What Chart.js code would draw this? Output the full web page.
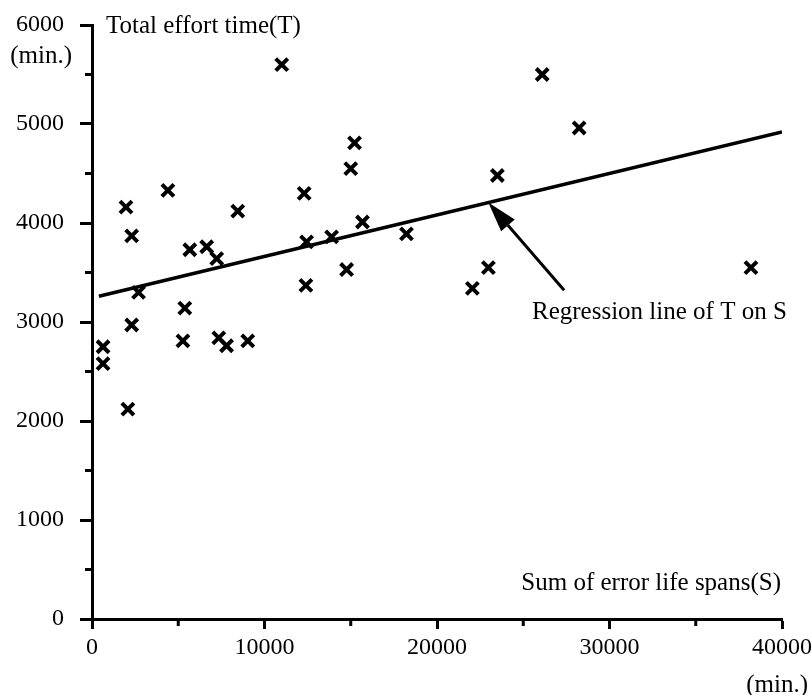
<!DOCTYPE html>
<html>
<head>
<meta charset="utf-8">
<title>Total effort time vs sum of error life spans</title>
<script src="https://cdn.jsdelivr.net/npm/chart.js@4.4.1/dist/chart.umd.min.js"></script>
<style>
  html, body { margin: 0; padding: 0; background: #fff; }
  #wrap { width: 812px; height: 695px; }
</style>
</head>
<body>
<div id="wrap"><canvas id="chart" width="812" height="695"></canvas></div>
<script>
// Sum of error life spans S (min.) and total effort time T (min.) per subject
const errorSpan = [640, 640, 2080, 2300, 2700, 2300, 1970, 4400, 8450, 11000, 12300,
  5670, 6650, 7230, 12400, 5380, 5270, 7350, 7800, 9030, 12440, 13890, 15680,
  15000, 15220, 14760, 18230, 23500, 22980, 22050, 26100, 28240, 38200];
const effortTime = [2750, 2580, 2120, 2970, 3300, 3870, 4160, 4330, 4120, 5600, 4300,
  3730, 3760, 3640, 3370, 3140, 2810, 2840, 2760, 2810, 3810, 3860, 4010,
  4550, 4810, 3530, 3890, 4480, 3550, 3340, 5500, 4960, 3550];

// Regression line of T on S (end points)
const regS = [400, 40000];
const regT = [3260, 4920];

// Arrow pointing at the regression line: tail and head in data units
const arrowS = [27370, 22975];
const arrowT = [3320, 4206];

const xTicks = [0, 10000, 20000, 30000, 40000];
const yTicks = [0, 1000, 2000, 3000, 4000, 5000, 6000];

const serif = "'Liberation Serif', 'DejaVu Serif', serif";

const points = errorSpan.map((s, i) => ({ x: s, y: effortTime[i] }));
const regression = regS.map((s, i) => ({ x: s, y: regT[i] }));

// minor ticks half way between the labelled ones, plus text and arrow
const extras = {
  id: 'extras',
  afterDraw(chart) {
    const { ctx, chartArea } = chart;
    const xs = chart.scales.x, ys = chart.scales.y;
    ctx.save();
    ctx.strokeStyle = '#000';
    ctx.lineWidth = 3;
    ctx.lineCap = 'butt';
    for (let v = 5000; v < 40000; v += 10000) {
      const px = xs.getPixelForValue(v);
      ctx.beginPath();
      ctx.moveTo(px, chartArea.bottom);
      ctx.lineTo(px, chartArea.bottom + 7);
      ctx.stroke();
    }
    for (let v = 500; v < 6000; v += 1000) {
      const py = ys.getPixelForValue(v);
      ctx.beginPath();
      ctx.moveTo(chartArea.left, py);
      ctx.lineTo(chartArea.left - 7, py);
      ctx.stroke();
    }

    // arrow
    const x0 = xs.getPixelForValue(arrowS[0]), y0 = ys.getPixelForValue(arrowT[0]);
    const x1 = xs.getPixelForValue(arrowS[1]), y1 = ys.getPixelForValue(arrowT[1]);
    const ang = Math.atan2(y1 - y0, x1 - x0);
    const headLen = 30, headW = 9;
    const bx = x1 - headLen * Math.cos(ang), by = y1 - headLen * Math.sin(ang);
    ctx.beginPath();
    ctx.moveTo(x0, y0);
    ctx.lineTo(bx, by);
    ctx.stroke();
    ctx.beginPath();
    ctx.moveTo(x1, y1);
    ctx.lineTo(bx + headW * Math.sin(ang), by - headW * Math.cos(ang));
    ctx.lineTo(bx - headW * Math.sin(ang), by + headW * Math.cos(ang));
    ctx.closePath();
    ctx.fillStyle = '#000';
    ctx.fill();

    // texts
    ctx.fillStyle = '#000';
    ctx.font = '25px ' + serif;
    ctx.textBaseline = 'alphabetic';
    ctx.textAlign = 'left';
    ctx.fillText('Total effort time(T)', chartArea.left + 14, 33);
    ctx.fillText('Regression line of T on S', 532, 319);
    ctx.textAlign = 'right';
    ctx.fillText('Sum of error life spans(S)', 781, 590);
    ctx.fillText('(min.)', 72, 63);
    ctx.fillText('(min.)', 808, 692);
    ctx.restore();
  }
};

new Chart(document.getElementById('chart'), {
  type: 'scatter',
  data: {
    datasets: [
      {
        data: points,
        pointStyle: 'crossRot',
        pointRadius: 8.5,
        pointBorderWidth: 4,
        borderColor: '#000',
        backgroundColor: '#000'
      },
      {
        type: 'line',
        data: regression,
        borderColor: '#000',
        borderWidth: 3.5,
        pointRadius: 0,
        fill: false
      }
    ]
  },
  options: {
    responsive: false,
    animation: false,
    devicePixelRatio: 1,
    layout: { padding: { left: 0, right: 29, top: 25, bottom: 0 } },
    plugins: { legend: { display: false }, tooltip: { enabled: false } },
    scales: {
      x: {
        type: 'linear',
        min: 0,
        max: 40000,
        afterBuildTicks: s => { s.ticks = xTicks.map(v => ({ value: v })); },
        afterFit: s => { s.height = 76; },
        border: { color: '#000', width: 3 },
        grid: { drawOnChartArea: false, color: '#000', tickLength: 10, tickWidth: 3, tickColor: '#000' },
        ticks: { color: '#000', padding: 0, maxRotation: 0, callback: v => String(v),
          font: { family: serif, size: 24, lineHeight: 1.53 } }
      },
      y: {
        type: 'linear',
        min: 0,
        max: 6000,
        afterBuildTicks: s => { s.ticks = yTicks.map(v => ({ value: v })); },
        afterFit: s => { s.width = 92; },
        border: { color: '#000', width: 3 },
        grid: { drawOnChartArea: false, color: '#000', tickLength: 12, tickWidth: 3, tickColor: '#000' },
        ticks: { color: '#000', padding: 16, callback: v => String(v),
          font: { family: serif, size: 24, lineHeight: 0.7 } }
      }
    }
  },
  plugins: [extras]
});
</script>
</body>
</html>
